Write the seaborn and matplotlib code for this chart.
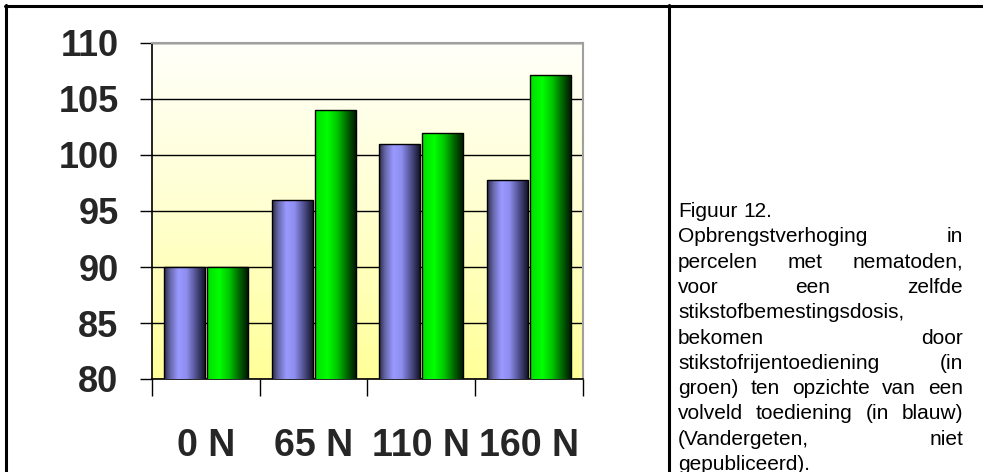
import numpy as np
import pandas as pd
import matplotlib
matplotlib.use("Agg")
import matplotlib.pyplot as plt
import seaborn as sns
from matplotlib import font_manager
from matplotlib.colors import LinearSegmentedColormap
from matplotlib.lines import Line2D

# gegevens
categories = ["0 N", "65 N", "110 N", "160 N"]
volveld = [90, 96, 101, 97.8]      # blauw: volveld toediening
rijen = [90, 104, 102, 107.1]      # groen: stikstofrijentoediening
y_ticks = [80, 85, 90, 95, 100, 105, 110]
caption_lines = [
    ["Figuur", "12."],
    ["Opbrengstverhoging", "in"],
    ["percelen", "met", "nematoden,"],
    ["voor", "een", "zelfde"],
    ["stikstofbemestingsdosis,"],
    ["bekomen", "door"],
    ["stikstofrijentoediening", "(in"],
    ["groen)", "ten", "opzichte", "van", "een"],
    ["volveld", "toediening", "(in", "blauw)"],
    ["(Vandergeten,", "niet"],
    ["gepubliceerd)."],
]

sns.set_style("white")
names = {f.name for f in font_manager.fontManager.ttflist}
narrow = "Liberation Sans Narrow" if "Liberation Sans Narrow" in names else "Liberation Sans"
plt.rcParams["font.family"] = ["Liberation Sans", "DejaVu Sans"]

W, H = 983, 472
df = pd.DataFrame({
    "dosis": categories * 2,
    "waarde": volveld + rijen,
    "toediening": ["volveld"] * 4 + ["rijen"] * 4,
})

fig = plt.figure(figsize=(W / 100, H / 100), dpi=100)
ax = fig.add_axes([152 / W, (H - 379) / H, 431 / W, 336 / H])

sns.barplot(data=df, x="dosis", y="waarde", hue="toediening",
            palette=["#9999ff", "#00ff00"], width=0.8, gap=0.05,
            edgecolor="black", linewidth=1, legend=False, ax=ax, zorder=3)

# cilindervormige kleurverlopen in de staven
blue_cmap = LinearSegmentedColormap.from_list("blauw", [
    (0, "#2a2a45"), (0.15, "#6666aa"), (0.35, "#9999ff"),
    (0.55, "#8e8ef0"), (0.8, "#4a4a85"), (1, "#14142a")])
green_cmap = LinearSegmentedColormap.from_list("groen", [
    (0, "#00dd00"), (0.3, "#00ff00"), (0.55, "#00c400"),
    (0.8, "#006000"), (1, "#001a00")])
grad = np.linspace(0, 1, 256).reshape(1, -1)
for cont, cmap in zip(ax.containers, [blue_cmap, green_cmap]):
    for bar in cont:
        x0, w, h = bar.get_x(), bar.get_width(), bar.get_height()
        im = ax.imshow(grad, cmap=cmap, aspect="auto", interpolation="bilinear",
                       extent=(x0, x0 + w, 80, h), zorder=3.5)
        im.set_clip_path(bar)
        bar.set_facecolor("none")
        bar.set_zorder(4)

# gele achtergrond met verloop (wit boven, geel onder)
bg = np.linspace(0, 1, 256).reshape(-1, 1)
bg_cmap = LinearSegmentedColormap.from_list("geel", ["#fffffa", "#ffffd0", "#ffff99"])
ax.imshow(bg, cmap=bg_cmap, aspect="auto", origin="upper",
          extent=(-0.5, 3.5, 80, 110), zorder=0)

ax.set_xlim(-0.5, 3.5)
ax.set_ylim(80, 110)
ax.set_axisbelow(True)
ax.yaxis.grid(True, color="black", linewidth=1)
ax.xaxis.grid(False)
ax.set_xlabel("")
ax.set_ylabel("")

for side in ["left", "bottom"]:
    ax.spines[side].set_color("black")
    ax.spines[side].set_linewidth(1.2)
for side in ["top", "right"]:
    ax.spines[side].set_color("#a0a0a0")
    ax.spines[side].set_linewidth(1.5)

ax.set_yticks(y_ticks)
ax.set_yticklabels([str(v) for v in y_ticks], fontfamily=narrow,
                   fontweight="bold", fontsize=26)
ax.tick_params(axis="y", which="major", left=True, direction="out",
               length=8.6, width=1, color="black", pad=15.5)
ax.set_xticks(range(len(categories)))
ax.set_xticklabels(categories, fontfamily=narrow, fontweight="bold", fontsize=27)
ax.set_xticks(np.arange(-0.5, len(categories)), minor=True)
ax.tick_params(axis="x", which="major", bottom=True, length=0, pad=35)
ax.tick_params(axis="x", which="minor", bottom=True, direction="out",
               length=12, width=1, color="black")

# kaderlijnen
def px_line(x0, y0, x1, y1, lw=2.2):
    fig.add_artist(Line2D([x0 / W, x1 / W], [1 - y0 / H, 1 - y1 / H],
                          color="black", linewidth=lw))

px_line(5, 6, W, 6)
px_line(6, 5, 6, H)
px_line(669, 5, 669, H)

# uitgevulde bijschrifttekst
fig.canvas.draw()
r = fig.canvas.get_renderer()
x_left, x_right = 678, 963
base0, dy = 217, 25.3
space_px = 6
for i, words in enumerate(caption_lines):
    y = 1 - (base0 + i * dy) / H
    texts = [fig.text(0, y, wd, fontsize=15, va="baseline", color="black") for wd in words]
    widths = [t.get_window_extent(r).width for t in texts]
    if len(words) > 1 and 0 < i < len(caption_lines) - 1:
        space = (x_right - x_left - sum(widths)) / (len(words) - 1)
    else:
        space = space_px
    x = x_left
    for t, wd in zip(texts, widths):
        t.set_x(x / W)
        x += wd + space

fig.savefig("out.png", dpi=100)
